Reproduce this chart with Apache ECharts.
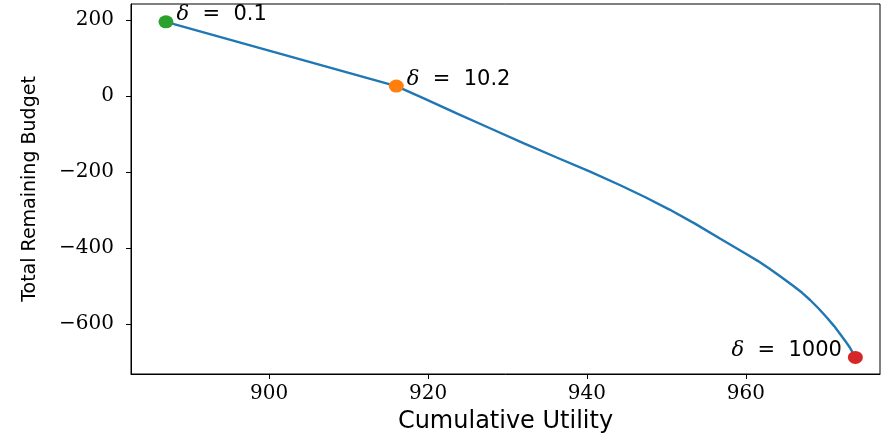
<!DOCTYPE html>
<html>
<head>
<meta charset="utf-8">
<script src="https://cdn.jsdelivr.net/npm/echarts@6/dist/echarts.min.js"></script>
<style>html,body{margin:0;padding:0;background:#fff}#c{width:881px;height:439px}</style>
</head>
<body>
<div id="c"></div>
<script>
// Pareto curve
const utility = [887.0, 916.0, 919.4, 923.6, 927.8, 932.0, 936.2, 940.4, 944.2, 947.3, 950.4, 953.6, 956.8, 959.9, 961.5, 963.0, 964.5, 966.0, 967.1, 968.1, 969.2, 970.2, 971.1, 971.9, 972.5, 973.1, 973.8];
const budget  = [195, 26, -6, -46, -85, -124, -162, -199, -235, -266, -299, -336, -376, -414, -434, -455, -477, -500, -518, -537, -560, -583, -605, -627, -644, -662, -688];
// highlighted delta points
const deltaUtility = [887.0, 916.0, 973.8];
const deltaBudget  = [195, 26, -688];
const deltaLabels  = ['0.1', '10.2', '1000'];
const deltaColors  = ['#2ca02c', '#ff7f0e', '#d62728'];
const xTicks = [900, 920, 940, 960];
const yTicks = [-600, -400, -200, 0, 200];

const fmt = v => (v < 0 ? '\u2212' + Math.abs(v) : String(v));
const tickFont = {fontFamily: 'DejaVu Serif', fontSize: 20, color: '#000'};

const pointSeries = deltaUtility.map((u, i) => ({
  type: 'scatter',
  data: [[u, deltaBudget[i]]],
  symbol: 'circle',
  symbolSize: [15, 13],
  itemStyle: {color: deltaColors[i], opacity: 1},
  z: 5,
  label: {
    show: true,
    position: i === 2 ? 'left' : 'right',
    distance: i === 2 ? 6 : 3,
    offset: [0, -7],
    formatter: '{d|\u03b4}{t|  =  ' + deltaLabels[i] + '}',
    rich: {
      d: {fontFamily: 'DejaVu Serif', fontStyle: 'italic', fontSize: 21, color: '#000'},
      t: {fontFamily: 'DejaVu Sans', fontSize: 21, color: '#000'}
    }
  }
}));

const chart = echarts.init(document.getElementById('c'), null, {renderer: 'canvas'});
chart.setOption({
  animation: false,
  backgroundColor: '#fff',
  grid: {left: 131, right: 1, top: 4, bottom: 63, show: true, borderColor: '#000', borderWidth: 1},
  xAxis: {
    type: 'value', min: 882.6, max: 976.9,
    name: 'Cumulative Utility', nameLocation: 'middle', nameGap: 36,
    nameTextStyle: {fontFamily: 'DejaVu Sans', fontSize: 24, color: '#000'},
    axisLine: {show: true, onZero: false, lineStyle: {color: '#000', width: 1}},
    axisTick: {show: true, length: 5, lineStyle: {color: '#000'}, customValues: xTicks},
    axisLabel: Object.assign({margin: 10, customValues: xTicks, formatter: fmt}, tickFont),
    splitLine: {show: false}
  },
  yAxis: {
    type: 'value', min: -731.7, max: 241.9,
    name: 'Total Remaining Budget', nameLocation: 'middle', nameGap: 91, nameRotate: 90,
    nameTextStyle: {fontFamily: 'DejaVu Sans', fontSize: 19, color: '#000'},
    axisLine: {show: true, onZero: false, lineStyle: {color: '#000', width: 1}},
    axisTick: {show: true, length: 5, lineStyle: {color: '#000'}, customValues: yTicks},
    axisLabel: Object.assign({margin: 17, customValues: yTicks, formatter: fmt}, tickFont),
    splitLine: {show: false}
  },
  series: [{
    type: 'line',
    data: utility.map((u, i) => [u, budget[i]]),
    smooth: false,
    showSymbol: false,
    lineStyle: {color: '#1f77b4', width: 2.4},
    z: 3
  }].concat(pointSeries)
});
</script>
</body>
</html>
